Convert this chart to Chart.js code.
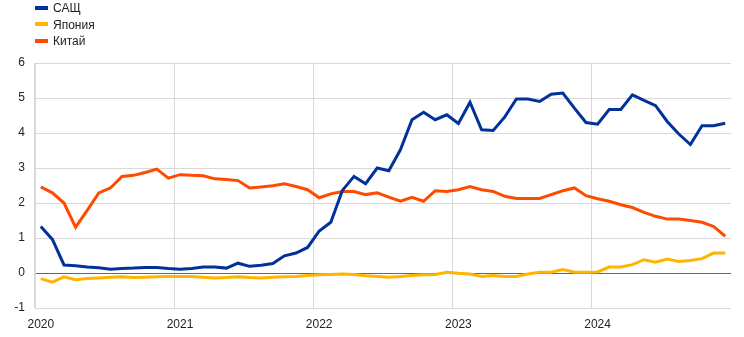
<!DOCTYPE html>
<html>
<head>
<meta charset="utf-8">
<script src="https://cdn.jsdelivr.net/npm/chart.js@4"></script>
<style>
  html, body { margin: 0; padding: 0; background: #fff; }
  #wrap { position: relative; width: 744px; height: 337px; }
  #legend { position: absolute; left: 35px; top: 0; font: 12px Arial, "Liberation Sans", sans-serif; color: #222; }
  #legend div { height: 16.5px; line-height: 16.5px; white-space: nowrap; }
  #legend span { display: inline-block; width: 13px; height: 4px; vertical-align: middle; margin-right: 5px; position: relative; top: -1px; }
</style>
</head>
<body>
<div id="wrap">
  <div id="legend"></div>
  <canvas id="chart" width="744" height="337"></canvas>
</div>
<script>
// monthly data, Jan 2020 - Dec 2024
const years = ['2020', '2021', '2022', '2023', '2024'];
const months = ['01','02','03','04','05','06','07','08','09','10','11','12'];

const seriesNames = ['САЩ', 'Япония', 'Китай'];
const seriesColors = ['#003299', '#ffb400', '#ff4b00'];

const usa = [
  1.33, 0.96, 0.23, 0.21, 0.17, 0.15, 0.11, 0.13, 0.14, 0.16, 0.16, 0.13,
  0.11, 0.13, 0.17, 0.17, 0.14, 0.28, 0.19, 0.22, 0.27, 0.49, 0.57, 0.73,
  1.20, 1.45, 2.36, 2.76, 2.55, 3.00, 2.92, 3.52, 4.38, 4.59, 4.38, 4.52,
  4.27, 4.88, 4.09, 4.07, 4.46, 4.97, 4.97, 4.90, 5.11, 5.14, 4.71, 4.30,
  4.25, 4.67, 4.67, 5.09, 4.93, 4.78, 4.33, 3.97, 3.67, 4.21, 4.21, 4.28
];
const japan = [
  -0.16, -0.26, -0.11, -0.19, -0.16, -0.14, -0.12, -0.11, -0.13, -0.12, -0.11, -0.10,
  -0.10, -0.10, -0.12, -0.14, -0.13, -0.11, -0.13, -0.14, -0.12, -0.11, -0.10, -0.07,
  -0.05, -0.04, -0.03, -0.04, -0.08, -0.10, -0.12, -0.10, -0.07, -0.05, -0.04, 0.02,
  -0.01, -0.03, -0.10, -0.07, -0.10, -0.10, -0.03, 0.02, 0.02, 0.10, 0.02, 0.02,
  0.03, 0.17, 0.17, 0.24, 0.38, 0.31, 0.40, 0.33, 0.36, 0.41, 0.57, 0.57
];
const china = [
  2.46, 2.29, 2.00, 1.31, 1.79, 2.29, 2.43, 2.76, 2.79, 2.87, 2.97, 2.71,
  2.81, 2.79, 2.78, 2.69, 2.67, 2.64, 2.43, 2.46, 2.49, 2.55, 2.47, 2.38,
  2.15, 2.26, 2.33, 2.33, 2.24, 2.29, 2.17, 2.05, 2.16, 2.05, 2.35, 2.33,
  2.38, 2.47, 2.38, 2.33, 2.19, 2.13, 2.13, 2.13, 2.24, 2.35, 2.43, 2.21,
  2.12, 2.05, 1.95, 1.87, 1.73, 1.62, 1.54, 1.54, 1.50, 1.45, 1.33, 1.05
];

const yMin = -1, yMax = 6, yStep = 1;

const labels = [];
years.forEach(y => months.forEach(m => labels.push(y + '-' + m)));

// legend (vertical, top-left)
const legend = document.getElementById('legend');
seriesNames.forEach((name, i) => {
  const d = document.createElement('div');
  d.innerHTML = `<span style="background:${seriesColors[i]}"></span>${name}`;
  legend.appendChild(d);
});

const allSeries = [usa, japan, china];

const ctx = document.getElementById('chart').getContext('2d');
new Chart(ctx, {
  type: 'line',
  data: {
    labels: labels,
    datasets: allSeries.map((data, i) => ({
      label: seriesNames[i],
      data: data,
      borderColor: seriesColors[i],
      backgroundColor: seriesColors[i],
      borderWidth: 3,
      pointRadius: 0,
      tension: 0,
      fill: false
    }))
  },
  options: {
    responsive: false,
    animation: false,
    layout: { padding: { top: 63, right: 13, left: 0, bottom: 0 } },
    plugins: { legend: { display: false }, tooltip: { enabled: false } },
    scales: {
      x: {
        type: 'category',
        offset: true,
        afterFit: s => { s.height = 29; },
        grid: {
          offset: true,
          drawTicks: false,
          color: c => (c.index % 12 === 0 ? '#d9d9d9' : 'rgba(0,0,0,0)')
        },
        border: { display: false },
        ticks: {
          autoSkip: false,
          maxRotation: 0,
          padding: 9,
          color: '#222',
          font: { family: 'Arial, "Liberation Sans", sans-serif', size: 12 },
          callback: function (v, i) {
            const l = labels[i];
            return l.endsWith('-01') ? l.slice(0, 4) : '';
          }
        }
      },
      y: {
        min: yMin,
        max: yMax,
        afterFit: s => { s.width = 35; },
        grid: {
          drawTicks: false,
          color: c => (c.tick && c.tick.value === 0 ? '#666' : '#d9d9d9')
        },
        border: { display: true, color: '#d9d9d9' },
        ticks: {
          stepSize: yStep,
          padding: 10,
          color: '#222',
          font: { family: 'Arial, "Liberation Sans", sans-serif', size: 12 }
        }
      }
    }
  }
});
</script>
</body>
</html>
